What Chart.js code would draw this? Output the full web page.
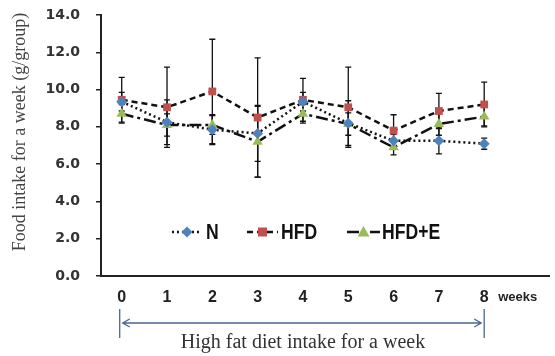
<!DOCTYPE html>
<html>
<head>
<meta charset="utf-8">
<script src="https://cdn.jsdelivr.net/npm/chart.js@4.4.1/dist/chart.umd.min.js"></script>
<style>
  html, body { margin: 0; padding: 0; background: #fff; }
  #wrap { width: 555px; height: 356px; position: relative; }
</style>
</head>
<body>
<div id="wrap"><canvas id="c" width="555" height="356"></canvas></div>
<script>
// ---- data ----
const weeks = [0, 1, 2, 3, 4, 5, 6, 7, 8];
const seriesNames = ['N', 'HFD', 'HFD+E'];
const nMean   = [9.35, 8.25, 7.85, 7.65, 9.35, 8.2, 7.25, 7.25, 7.1];
const nSD     = [0.5, 1.2, 0.8, 1.5, 0.5, 1.2, 0.35, 0.7, 0.3];
const hfdMean = [9.45, 9.05, 9.9, 8.5, 9.45, 9.05, 7.8, 8.85, 9.2];
const hfdSD   = [1.2, 2.15, 2.8, 3.2, 1.15, 2.15, 0.85, 0.95, 1.2];
const eMean   = [8.7, 8.1, 8.1, 7.2, 8.7, 8.15, 6.9, 8.15, 8.55];
const eSD     = [0.5, 0.6, 0.5, 1.9, 0.5, 0.6, 0.4, 0.6, 0.5];
const yTicks  = [0, 2, 4, 6, 8, 10, 12, 14];
const yTitle  = 'Food intake for a week (g/group)';
const xUnit   = 'weeks';
const spanText = 'High fat diet intake for a week';

const colors = { N: '#4f81bd', HFD: '#c0504d', E: '#9bbb59' };
const dashes = { N: [2, 3], HFD: [6, 4], E: [12, 4, 3, 4] };

function pts(arr) { return weeks.map((w, i) => ({ x: w, y: arr[i] })); }

const errorBars = {
  id: 'errorBars',
  beforeDatasetsDraw(chart) {
    const { ctx, scales: { x, y } } = chart;
    const sds = [nSD, hfdSD, eSD];
    const means = [nMean, hfdMean, eMean];
    ctx.save();
    ctx.strokeStyle = '#111';
    ctx.lineWidth = 1.3;
    means.forEach((m, s) => {
      weeks.forEach((w, i) => {
        const px = x.getPixelForValue(w);
        const top = y.getPixelForValue(m[i] + sds[s][i]);
        const bot = y.getPixelForValue(m[i] - sds[s][i]);
        ctx.beginPath();
        ctx.moveTo(px, top); ctx.lineTo(px, bot);
        ctx.moveTo(px - 3, top); ctx.lineTo(px + 3, top);
        ctx.moveTo(px - 3, bot); ctx.lineTo(px + 3, bot);
        ctx.stroke();
      });
    });
    ctx.restore();
  }
};

function drawMarker(ctx, kind, cx, cy) {
  ctx.save();
  if (kind === 'N') {
    ctx.fillStyle = colors.N;
    ctx.beginPath();
    ctx.moveTo(cx, cy - 5.5); ctx.lineTo(cx + 5.5, cy); ctx.lineTo(cx, cy + 5.5); ctx.lineTo(cx - 5.5, cy);
    ctx.closePath(); ctx.fill();
  } else if (kind === 'HFD') {
    ctx.fillStyle = colors.HFD;
    ctx.fillRect(cx - 4.5, cy - 4.5, 9, 9);
  } else {
    ctx.fillStyle = colors.E;
    ctx.beginPath();
    ctx.moveTo(cx, cy - 6); ctx.lineTo(cx + 6, cy + 4.5); ctx.lineTo(cx - 6, cy + 4.5);
    ctx.closePath(); ctx.fill();
  }
  ctx.restore();
}

const extras = {
  id: 'extras',
  afterDraw(chart) {
    const { ctx, scales: { x, y } } = chart;
    ctx.save();
    // legend
    const items = [
      { k: 'N', x0: 172, x1: 202, label: seriesNames[0], tx: 206 },
      { k: 'HFD', x0: 247, x1: 278, label: seriesNames[1], tx: 281 },
      { k: 'E', x0: 347, x1: 380, label: seriesNames[2], tx: 382 }
    ];
    const ly = 232;
    items.forEach(it => {
      ctx.strokeStyle = '#111';
      ctx.lineWidth = 2.5;
      ctx.setLineDash(dashes[it.k]);
      ctx.beginPath(); ctx.moveTo(it.x0, ly); ctx.lineTo(it.x1, ly); ctx.stroke();
      ctx.setLineDash([]);
      drawMarker(ctx, it.k, (it.x0 + it.x1) / 2, ly);
      ctx.save();
      ctx.translate(it.tx, ly);
      ctx.scale(0.8, 1);
      ctx.fillStyle = '#111';
      ctx.font = 'bold 22px "Liberation Sans", Arial, sans-serif';
      ctx.textBaseline = 'middle';
      ctx.textAlign = 'left';
      ctx.fillText(it.label, 0, 1);
      ctx.restore();
    });
    // y title
    ctx.save();
    ctx.translate(20, 132);
    ctx.rotate(-Math.PI / 2);
    ctx.fillStyle = '#444';
    ctx.font = '18px "Liberation Serif", "Times New Roman", serif';
    ctx.textAlign = 'center';
    ctx.textBaseline = 'middle';
    ctx.fillText(yTitle, 0, 0);
    ctx.restore();
    // weeks unit
    const p8 = x.getPixelForValue(weeks[weeks.length - 1]);
    ctx.fillStyle = '#222';
    ctx.font = 'bold 13px "Liberation Sans", Arial, sans-serif';
    ctx.textAlign = 'left';
    ctx.textBaseline = 'middle';
    ctx.fillText(xUnit, p8 + 14, 297);
    // span arrow
    const p0 = x.getPixelForValue(weeks[0]) - 2;
    const pe = p8;
    ctx.strokeStyle = '#4a6790';
    ctx.lineWidth = 1.3;
    ctx.beginPath();
    ctx.moveTo(p0, 309); ctx.lineTo(p0, 338);
    ctx.moveTo(pe, 309); ctx.lineTo(pe, 338);
    ctx.moveTo(p0 + 3, 323); ctx.lineTo(pe - 3, 323);
    ctx.moveTo(p0 + 10, 319); ctx.lineTo(p0 + 3, 323); ctx.lineTo(p0 + 10, 327);
    ctx.moveTo(pe - 10, 319); ctx.lineTo(pe - 3, 323); ctx.lineTo(pe - 10, 327);
    ctx.stroke();
    ctx.fillStyle = '#333';
    ctx.font = '20px "Liberation Serif", "Times New Roman", serif';
    ctx.textAlign = 'center';
    ctx.textBaseline = 'middle';
    ctx.fillText(spanText, 303, 343);
    ctx.restore();
  }
};

new Chart(document.getElementById('c'), {
  type: 'line',
  data: {
    datasets: [
      { label: seriesNames[0], data: pts(nMean), borderColor: '#111', borderWidth: 2.5, borderDash: dashes.N,
        pointStyle: 'rectRot', pointRadius: 5.5, pointBackgroundColor: colors.N, pointBorderWidth: 0, tension: 0 },
      { label: seriesNames[1], data: pts(hfdMean), borderColor: '#111', borderWidth: 2.5, borderDash: dashes.HFD,
        pointStyle: 'rect', pointRadius: 5.5, pointBackgroundColor: colors.HFD, pointBorderWidth: 0, tension: 0 },
      { label: seriesNames[2], data: pts(eMean), borderColor: '#111', borderWidth: 2.5, borderDash: dashes.E,
        pointStyle: 'triangle', pointRadius: 6, pointBackgroundColor: colors.E, pointBorderWidth: 0, tension: 0 }
    ]
  },
  options: {
    responsive: false,
    animation: false,
    layout: { padding: { top: 0, right: 0, left: 0, bottom: 0 } },
    plugins: { legend: { display: false }, tooltip: { enabled: false } },
    scales: {
      x: {
        type: 'linear',
        min: -0.457, max: 9.43,
        afterBuildTicks: (s) => { s.ticks = weeks.map(v => ({ value: v })); },
        afterFit: (s) => { s.height = 80; },
        grid: { display: false, drawTicks: false },
        border: { display: true, color: '#222', width: 2 },
        ticks: { padding: 12, color: '#222', font: { family: '"Liberation Sans", Arial, sans-serif', size: 16, weight: 'bold' },
                 callback: (v) => String(v), maxRotation: 0, autoSkip: false }
      },
      y: {
        min: 0, max: 14,
        afterBuildTicks: (s) => { s.ticks = yTicks.map(v => ({ value: v })); },
        afterFit: (s) => { s.width = 101; s.paddingTop = 15; s.paddingBottom = 0; },
        grid: { drawOnChartArea: false, drawTicks: true, tickLength: 5, color: '#222', lineWidth: 1.5 },
        border: { display: true, color: '#222', width: 2 },
        ticks: { padding: 16, color: '#333', font: { family: '"DejaVu Sans", Verdana, sans-serif', size: 14, weight: 'bold' },
                 callback: (v) => Number(v).toFixed(1) }
      }
    }
  },
  plugins: [errorBars, extras]
});
</script>
</body>
</html>
